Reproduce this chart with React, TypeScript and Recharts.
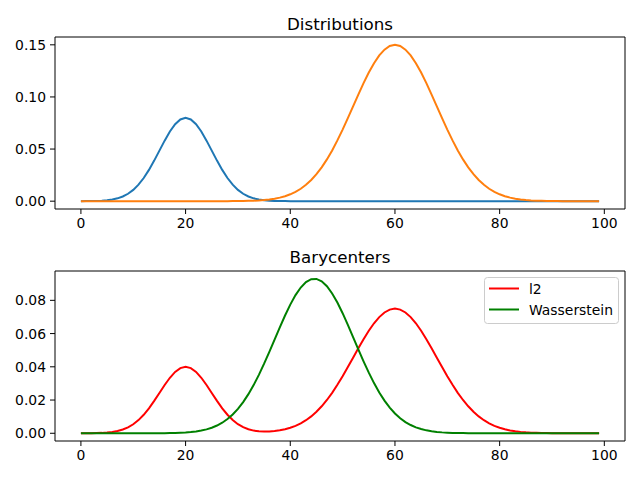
import { LineChart, Line, XAxis, YAxis, ReferenceArea } from "recharts";

// values, one per x = 0..99
const blue = [
  0.00003, 0.00006, 0.00012, 0.00025, 0.00048, 0.00089, 0.00159, 0.00272, 0.00449, 0.00711,
  0.01083, 0.01583, 0.02224, 0.03002, 0.03894, 0.04852, 0.05809, 0.06682, 0.07385, 0.07842,
  0.08, 0.07842, 0.07385, 0.06682, 0.05809, 0.04852, 0.03894, 0.03002, 0.02224, 0.01583,
  0.01083, 0.00711, 0.00449, 0.00272, 0.00159, 0.00089, 0.00048, 0.00025, 0.00012, 0.00006,
  0.00003, 0.00001, 0, 0, 0, 0, 0, 0, 0, 0,
  0, 0, 0, 0, 0, 0, 0, 0, 0, 0,
  0, 0, 0, 0, 0, 0, 0, 0, 0, 0,
  0, 0, 0, 0, 0, 0, 0, 0, 0, 0,
  0, 0, 0, 0, 0, 0, 0, 0, 0, 0,
  0, 0, 0, 0, 0, 0, 0, 0, 0, 0,
];

const orange = [
  0, 0, 0, 0, 0, 0, 0, 0, 0, 0,
  0, 0, 0, 0, 0, 0, 0, 0, 0, 0,
  0, 0, 0, 0, 0, 0.00001, 0.00002, 0.00003, 0.00005, 0.00008,
  0.00013, 0.00021, 0.00033, 0.0005, 0.00076, 0.00114, 0.00167, 0.00241, 0.00342, 0.00478,
  0.00659, 0.00894, 0.01193, 0.01569, 0.0203, 0.02586, 0.03245, 0.04007, 0.0487, 0.05829,
  0.06867, 0.07967, 0.09098, 0.10229, 0.11322, 0.12339, 0.13238, 0.13982, 0.14538, 0.14883,
  0.15, 0.14883, 0.14538, 0.13982, 0.13238, 0.12339, 0.11322, 0.10229, 0.09098, 0.07967,
  0.06867, 0.05829, 0.0487, 0.04007, 0.03245, 0.02586, 0.0203, 0.01569, 0.01193, 0.00894,
  0.00659, 0.00478, 0.00342, 0.00241, 0.00167, 0.00114, 0.00076, 0.0005, 0.00033, 0.00021,
  0.00013, 0.00008, 0.00005, 0.00003, 0.00002, 0.00001, 0, 0, 0, 0,
];

const l2 = [
  0.00002, 0.00003, 0.00006, 0.00013, 0.00024, 0.00045, 0.0008, 0.00136, 0.00225, 0.00356,
  0.00542, 0.00792, 0.01112, 0.01501, 0.01947, 0.02426, 0.02905, 0.03341, 0.03693, 0.03921,
  0.04, 0.03921, 0.03693, 0.03341, 0.02905, 0.02427, 0.01948, 0.01503, 0.01115, 0.00796,
  0.00548, 0.00366, 0.00241, 0.00161, 0.00118, 0.00102, 0.00108, 0.00133, 0.00177, 0.00242,
  0.00331, 0.00448, 0.00597, 0.00785, 0.01015, 0.01293, 0.01623, 0.02004, 0.02435, 0.02915,
  0.03434, 0.03984, 0.04549, 0.05115, 0.05661, 0.0617, 0.06619, 0.06991, 0.07269, 0.07442,
  0.075, 0.07442, 0.07269, 0.06991, 0.06619, 0.0617, 0.05661, 0.05115, 0.04549, 0.03984,
  0.03434, 0.02915, 0.02435, 0.02004, 0.01623, 0.01293, 0.01015, 0.00785, 0.00597, 0.00447,
  0.0033, 0.00239, 0.00171, 0.00121, 0.00084, 0.00057, 0.00038, 0.00025, 0.00017, 0.00011,
  0.00007, 0.00004, 0.00003, 0.00002, 0.00001, 0.00001, 0, 0, 0, 0,
];

const wasserstein = [
  0, 0, 0, 0, 0, 0, 0, 0, 0, 0,
  0, 0, 0.00001, 0.00002, 0.00003, 0.00005, 0.00008, 0.00013, 0.0002, 0.00032,
  0.00049, 0.00075, 0.00112, 0.00164, 0.00236, 0.00334, 0.00465, 0.00636, 0.00856, 0.01131,
  0.01468, 0.01875, 0.02353, 0.029, 0.03515, 0.04188, 0.04902, 0.0564, 0.06378, 0.07088,
  0.07743, 0.08313, 0.08771, 0.09096, 0.09271, 0.09287, 0.09143, 0.08848, 0.08414, 0.07865,
  0.07225, 0.06523, 0.05788, 0.05048, 0.04327, 0.03646, 0.03019, 0.02456, 0.01965, 0.01545,
  0.01193, 0.00906, 0.00676, 0.00496, 0.00357, 0.00253, 0.00176, 0.00121, 0.00081, 0.00054,
  0.00035, 0.00022, 0.00014, 0.00009, 0.00005, 0.00003, 0.00002, 0.00001, 0, 0,
  0, 0, 0, 0, 0, 0, 0, 0, 0, 0,
  0, 0, 0, 0, 0, 0, 0, 0, 0, 0,
];

const xTicks = [0, 20, 40, 60, 80, 100];
const topTicks = [0, 0.05, 0.1, 0.15];
const bottomTicks = [0, 0.02, 0.04, 0.06, 0.08];
const titles = ["Distributions", "Barycenters"];
const legendNames = ["l2", "Wasserstein"];
const legendColors = ["#ff0000", "#008000"];

const font = "DejaVu Sans, sans-serif";
const tickStyle = { fill: "#000", fontSize: 13.9, fontFamily: font };
const xDomain: [number, number] = [-4.95, 103.95];
const topDomain: [number, number] = [-0.0075, 0.1575];
const bottomDomain: [number, number] = [-0.00465, 0.09765];

const topData = blue.map((v, i) => ({ x: i, blue: v, orange: orange[i] }));
const bottomData = l2.map((v, i) => ({ x: i, l2: v, w: wasserstein[i] }));

export default function App() {
  return (
    <div style={{ position: "absolute", left: 0, top: 0, width: 640, height: 480, background: "#fff" }}>
      <div style={{ position: "absolute", left: 0, top: 0 }}>
        <LineChart width={640} height={240} data={topData} margin={{ top: 37, right: 15, left: 5, bottom: 1 }}>
          <XAxis
            dataKey="x"
            type="number"
            domain={xDomain}
            ticks={xTicks}
            allowDataOverflow
            axisLine={false}
            tickLine={{ stroke: "#000" }}
            tickSize={5}
            tickMargin={4}
            height={30}
            tick={tickStyle}
          />
          <YAxis
            type="number"
            domain={topDomain}
            ticks={topTicks}
            allowDataOverflow
            axisLine={false}
            tickLine={{ stroke: "#000" }}
            tickSize={5}
            tickMargin={4}
            width={50}
            tick={tickStyle}
            tickFormatter={(v) => Number(v).toFixed(2)}
          />
          <Line dataKey="blue" type="linear" stroke="#1f77b4" strokeWidth={2} dot={false} isAnimationActive={false} />
          <Line dataKey="orange" type="linear" stroke="#ff7f0e" strokeWidth={2} dot={false} isAnimationActive={false} />
          <ReferenceArea
            x1={xDomain[0]}
            x2={xDomain[1]}
            y1={topDomain[0]}
            y2={topDomain[1]}
            fill="none"
            stroke="#000"
            strokeWidth={1}
          />
        </LineChart>
      </div>
      <div style={{ position: "absolute", left: 0, top: 240 }}>
        <LineChart width={640} height={240} data={bottomData} margin={{ top: 31, right: 15, left: 5, bottom: 9 }}>
          <XAxis
            dataKey="x"
            type="number"
            domain={xDomain}
            ticks={xTicks}
            allowDataOverflow
            axisLine={false}
            tickLine={{ stroke: "#000" }}
            tickSize={5}
            tickMargin={4}
            height={30}
            tick={tickStyle}
          />
          <YAxis
            type="number"
            domain={bottomDomain}
            ticks={bottomTicks}
            allowDataOverflow
            axisLine={false}
            tickLine={{ stroke: "#000" }}
            tickSize={5}
            tickMargin={4}
            width={50}
            tick={tickStyle}
            tickFormatter={(v) => Number(v).toFixed(2)}
          />
          <Line dataKey="l2" type="linear" stroke={legendColors[0]} strokeWidth={2} dot={false} isAnimationActive={false} />
          <Line dataKey="w" type="linear" stroke={legendColors[1]} strokeWidth={2} dot={false} isAnimationActive={false} />
          <ReferenceArea
            x1={xDomain[0]}
            x2={xDomain[1]}
            y1={bottomDomain[0]}
            y2={bottomDomain[1]}
            fill="none"
            stroke="#000"
            strokeWidth={1}
          />
        </LineChart>
      </div>
      {/* titles and legend drawn on top, matplotlib-style */}
      <svg
        width={640}
        height={480}
        style={{ position: "absolute", left: 0, top: 0, pointerEvents: "none" }}
        fontFamily={font}
      >
        <text x={340} y={30} textAnchor="middle" fontSize={16.7} fill="#000">
          {titles[0]}
        </text>
        <text x={340} y={263} textAnchor="middle" fontSize={16.7} fill="#000">
          {titles[1]}
        </text>
        <rect x={484.5} y={277.5} width={134} height={46} rx={3} fill="#fff" fillOpacity={0.8} stroke="#cccccc" />
        {legendNames.map((name, i) => (
          <g key={name}>
            <line x1={489} x2={519} y1={288.5 + i * 21} y2={288.5 + i * 21} stroke={legendColors[i]} strokeWidth={2} />
            <text x={529} y={293.5 + i * 21} fontSize={13.9} fill="#000">
              {name}
            </text>
          </g>
        ))}
      </svg>
    </div>
  );
}
